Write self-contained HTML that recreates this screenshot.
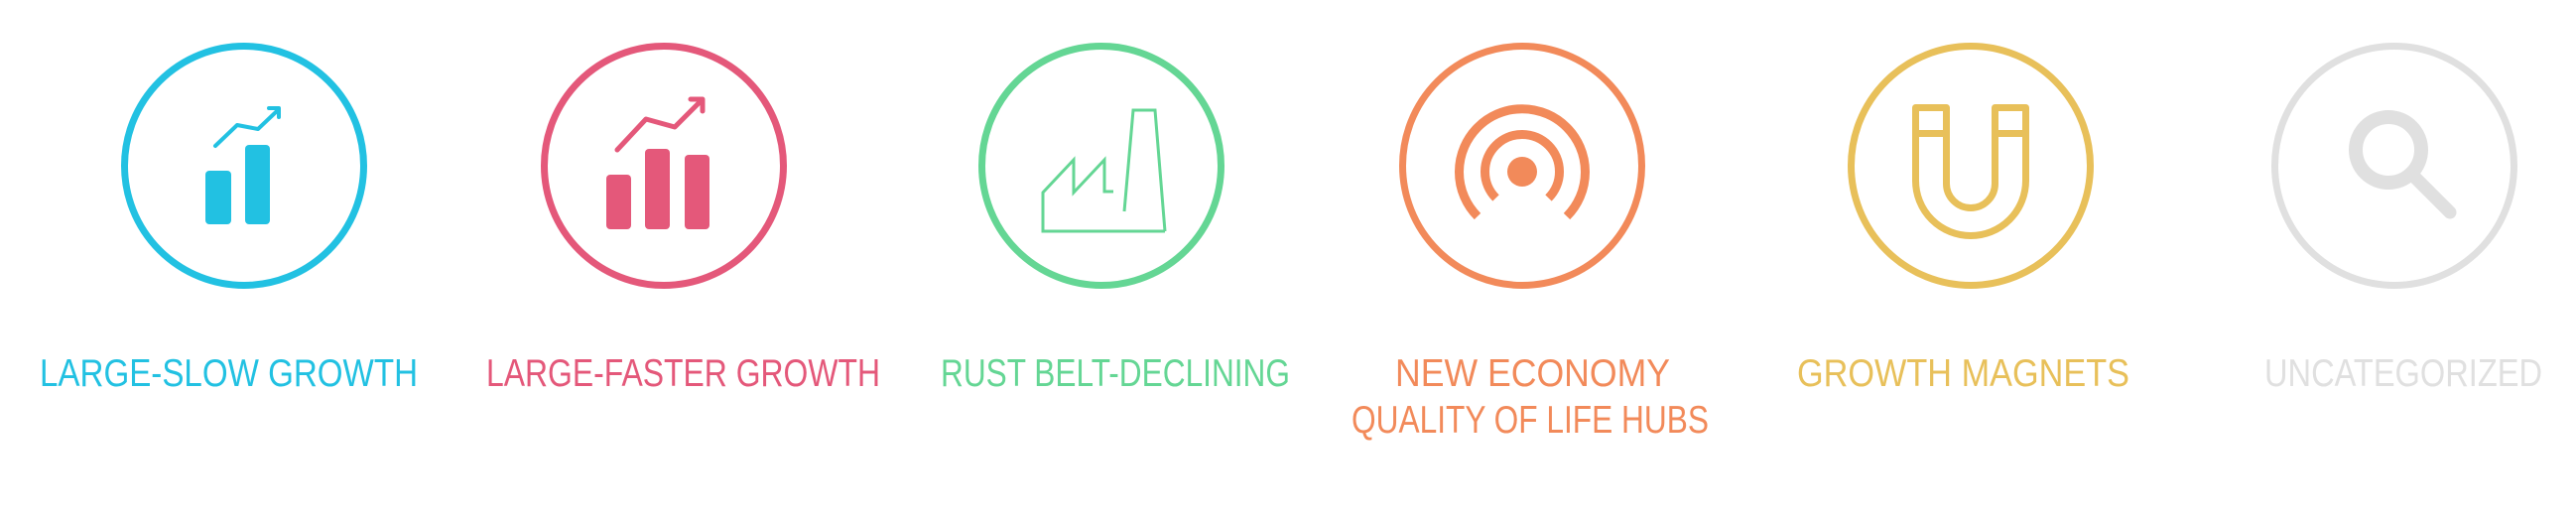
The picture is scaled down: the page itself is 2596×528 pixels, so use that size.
<!DOCTYPE html>
<html>
<head>
<meta charset="utf-8">
<style>
  html,body{margin:0;padding:0;background:#fff;}
  svg{display:block;}
  text{font-family:"Liberation Sans",sans-serif;font-size:39px;}
</style>
</head>
<body>
<svg width="2596" height="528" viewBox="0 0 2596 528" xmlns="http://www.w3.org/2000/svg">
  <!-- Large-slow growth -->
  <g>
    <circle cx="246" cy="167" r="120.5" fill="none" stroke="#22c1e2" stroke-width="7"/>
    <g fill="#22c1e2">
      <rect x="207" y="172" width="26" height="54" rx="4"/>
      <rect x="247" y="146" width="25" height="80" rx="4"/>
      <polyline points="217,147 239,126 260,130 279,112" fill="none" stroke="#22c1e2" stroke-width="4" stroke-linecap="round" stroke-linejoin="round"/>
      <polyline points="271,109 281,109 281,118" fill="none" stroke="#22c1e2" stroke-width="4" stroke-linecap="round" stroke-linejoin="round"/>
    </g>
    <text x="40" y="389" textLength="381" lengthAdjust="spacingAndGlyphs" fill="#22c1e2">LARGE-SLOW GROWTH</text>
  </g>

  <!-- Large-faster growth -->
  <g>
    <circle cx="669" cy="167" r="120.5" fill="none" stroke="#e4587a" stroke-width="7"/>
    <g fill="#e4587a">
      <rect x="611" y="176" width="25" height="55" rx="4"/>
      <rect x="650" y="150" width="25" height="81" rx="4"/>
      <rect x="690" y="156" width="25" height="75" rx="4"/>
      <polyline points="622,151 651,120 680,128 705,103" fill="none" stroke="#e4587a" stroke-width="5" stroke-linecap="round" stroke-linejoin="round"/>
      <polyline points="696,100 708,100 708,112" fill="none" stroke="#e4587a" stroke-width="5" stroke-linecap="round" stroke-linejoin="round"/>
    </g>
    <text x="490" y="389" textLength="397" lengthAdjust="spacingAndGlyphs" fill="#e4587a">LARGE-FASTER GROWTH</text>
  </g>

  <!-- Rust belt -->
  <g>
    <circle cx="1110" cy="167" r="120.5" fill="none" stroke="#64d694" stroke-width="7"/>
    <g fill="none" stroke="#64d694" stroke-width="3">
      <polyline points="1174,233 1051,233 1051,194 1082,161 1082,194 1113,161 1113,193 1122,193"/>
      <polyline points="1133,213 1142,111 1164,111 1174,233"/>
    </g>
    <text x="948" y="389" textLength="352" lengthAdjust="spacingAndGlyphs" fill="#64d694">RUST BELT-DECLINING</text>
  </g>

  <!-- New economy -->
  <g>
    <circle cx="1534" cy="167" r="120.5" fill="none" stroke="#f28a5a" stroke-width="7"/>
    <g stroke="#f28a5a" stroke-width="9" fill="none">
      <circle cx="1534" cy="173" r="15" fill="#f28a5a" stroke="none"/>
      <path d="M1507.5,199.5 A37.5,37.5 0 1 1 1560.5,199.5"/>
      <path d="M1489,218 A63.5,63.5 0 1 1 1579,218"/>
    </g>
    <text x="1406" y="389" textLength="277" lengthAdjust="spacingAndGlyphs" fill="#f28a5a">NEW ECONOMY</text>
    <text x="1362" y="436" textLength="360" lengthAdjust="spacingAndGlyphs" fill="#f28a5a">QUALITY OF LIFE HUBS</text>
  </g>

  <!-- Growth magnets -->
  <g>
    <circle cx="1986" cy="167" r="120.5" fill="none" stroke="#e8c05a" stroke-width="7"/>
    <g fill="none" stroke="#e8c05a" stroke-width="7" stroke-linejoin="round">
      <path d="M1930.5,108.5 L1930.5,182 A55.5,55.5 0 0 0 2041.5,182 L2041.5,108.5 L2010.5,108.5 L2010.5,185 A24.5,24.5 0 0 1 1961.5,185 L1961.5,108.5 Z"/>
      <line x1="1930" y1="134.5" x2="1961" y2="134.5"/>
      <line x1="2010" y1="134.5" x2="2041" y2="134.5"/>
    </g>
    <text x="1811" y="389" textLength="335" lengthAdjust="spacingAndGlyphs" fill="#e8c05a">GROWTH MAGNETS</text>
  </g>

  <!-- Uncategorized -->
  <g>
    <circle cx="2413" cy="167" r="120.5" fill="none" stroke="#e0e0e0" stroke-width="7"/>
    <g fill="none" stroke="#e0e0e0" stroke-linecap="round">
      <circle cx="2407" cy="151" r="33" stroke-width="14"/>
      <line x1="2433" y1="178" x2="2469" y2="214" stroke-width="13"/>
    </g>
    <text x="2282" y="389" textLength="280" lengthAdjust="spacingAndGlyphs" fill="#e0e0e0">UNCATEGORIZED</text>
  </g>
</svg>
</body>
</html>
